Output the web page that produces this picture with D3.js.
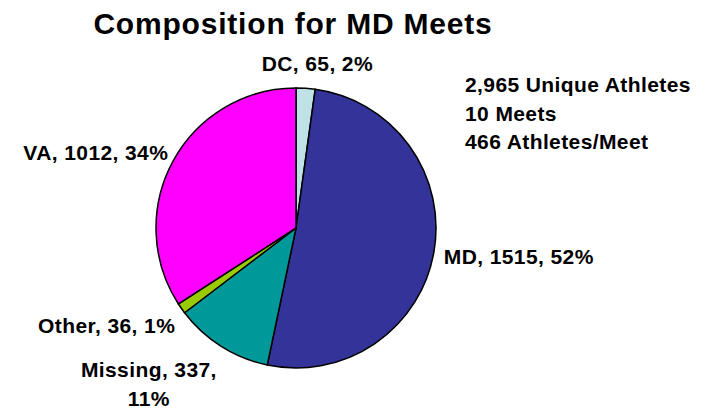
<!DOCTYPE html>
<meta charset="utf-8">
<head>
    <style>
        body { margin: 0; background: #ffffff; }
        text { font-family: "Liberation Sans", Arial, sans-serif; font-weight: bold; fill: #000; }
        .title { font-size: 30px; letter-spacing: 0.8px; }
        .label { font-size: 21px; letter-spacing: 0.4px; }
        .slice { stroke: #000; stroke-width: 1.5px; }
    </style>
    <script src="https://d3js.org/d3.v7.min.js"></script>
</head>
<body>
<svg id="chart"></svg>
<script>
    // data
    var states = ["DC", "MD", "Missing", "Other", "VA"];
    var counts = [65, 1515, 337, 36, 1012];
    var percents = ["2%", "52%", "11%", "1%", "34%"];
    var colors = ["#bfe2e6", "#333399", "#009999", "#99cc00", "#ff00ff"];
    var titleText = "Composition for MD Meets";
    var notes = ["2,965 Unique Athletes", "10 Meets", "466 Athletes/Meet"];

    var width = 712, height = 411;
    var cx = 296, cy = 228, radius = 140;

    var svg = d3.select("#chart")
        .attr("width", width)
        .attr("height", height);

    svg.append("text")
        .attr("class", "title")
        .attr("x", 293)
        .attr("y", 34)
        .attr("text-anchor", "middle")
        .text(titleText);

    var rows = states.map(function(s, i){
        return {name: s, value: counts[i], pct: percents[i], color: colors[i]};
    });

    var pie = d3.pie()
        .sort(null)
        .value(function(d){ return d.value; });

    var arc = d3.arc().innerRadius(0).outerRadius(radius);
    var labelArc = d3.arc().innerRadius(radius + 10).outerRadius(radius + 10);

    var g = svg.append("g").attr("transform", "translate(" + cx + "," + cy + ")");

    var arcs = pie(rows);

    g.selectAll("path")
        .data(arcs)
        .enter()
        .append("path")
        .attr("class", "slice")
        .attr("d", arc)
        .style("fill", function(d){ return d.data.color; });

    // label nudges from the arc's label point (layout only)
    var nudge = {
        DC: [11, -7, "middle"],
        MD: [0, 10, "start"],
        Missing: [-67, 22, "middle"],
        Other: [2, 19, "end"],
        VA: [4, 4, "end"]
    };

    arcs.forEach(function(d){
        var p = labelArc.centroid(d);
        var n = nudge[d.data.name];
        var t = g.append("text")
            .attr("class", "label")
            .attr("text-anchor", n[2]);
        var x = p[0] + n[0], y = p[1] + n[1];
        if (d.data.name == "Missing") {
            t.append("tspan").attr("x", x).attr("y", y)
                .text(d.data.name + ", " + d.data.value + ",");
            t.append("tspan").attr("x", x).attr("y", y + 29)
                .text(d.data.pct);
        } else {
            t.attr("x", x).attr("y", y)
                .text(d.data.name + ", " + d.data.value + ", " + d.data.pct);
        }
    });

    svg.append("g")
        .selectAll("text")
        .data(notes)
        .enter()
        .append("text")
        .attr("class", "label")
        .attr("x", 465)
        .attr("y", function(d, i){ return 92 + i * 28.5; })
        .text(function(d){ return d; });
</script>
</body>
